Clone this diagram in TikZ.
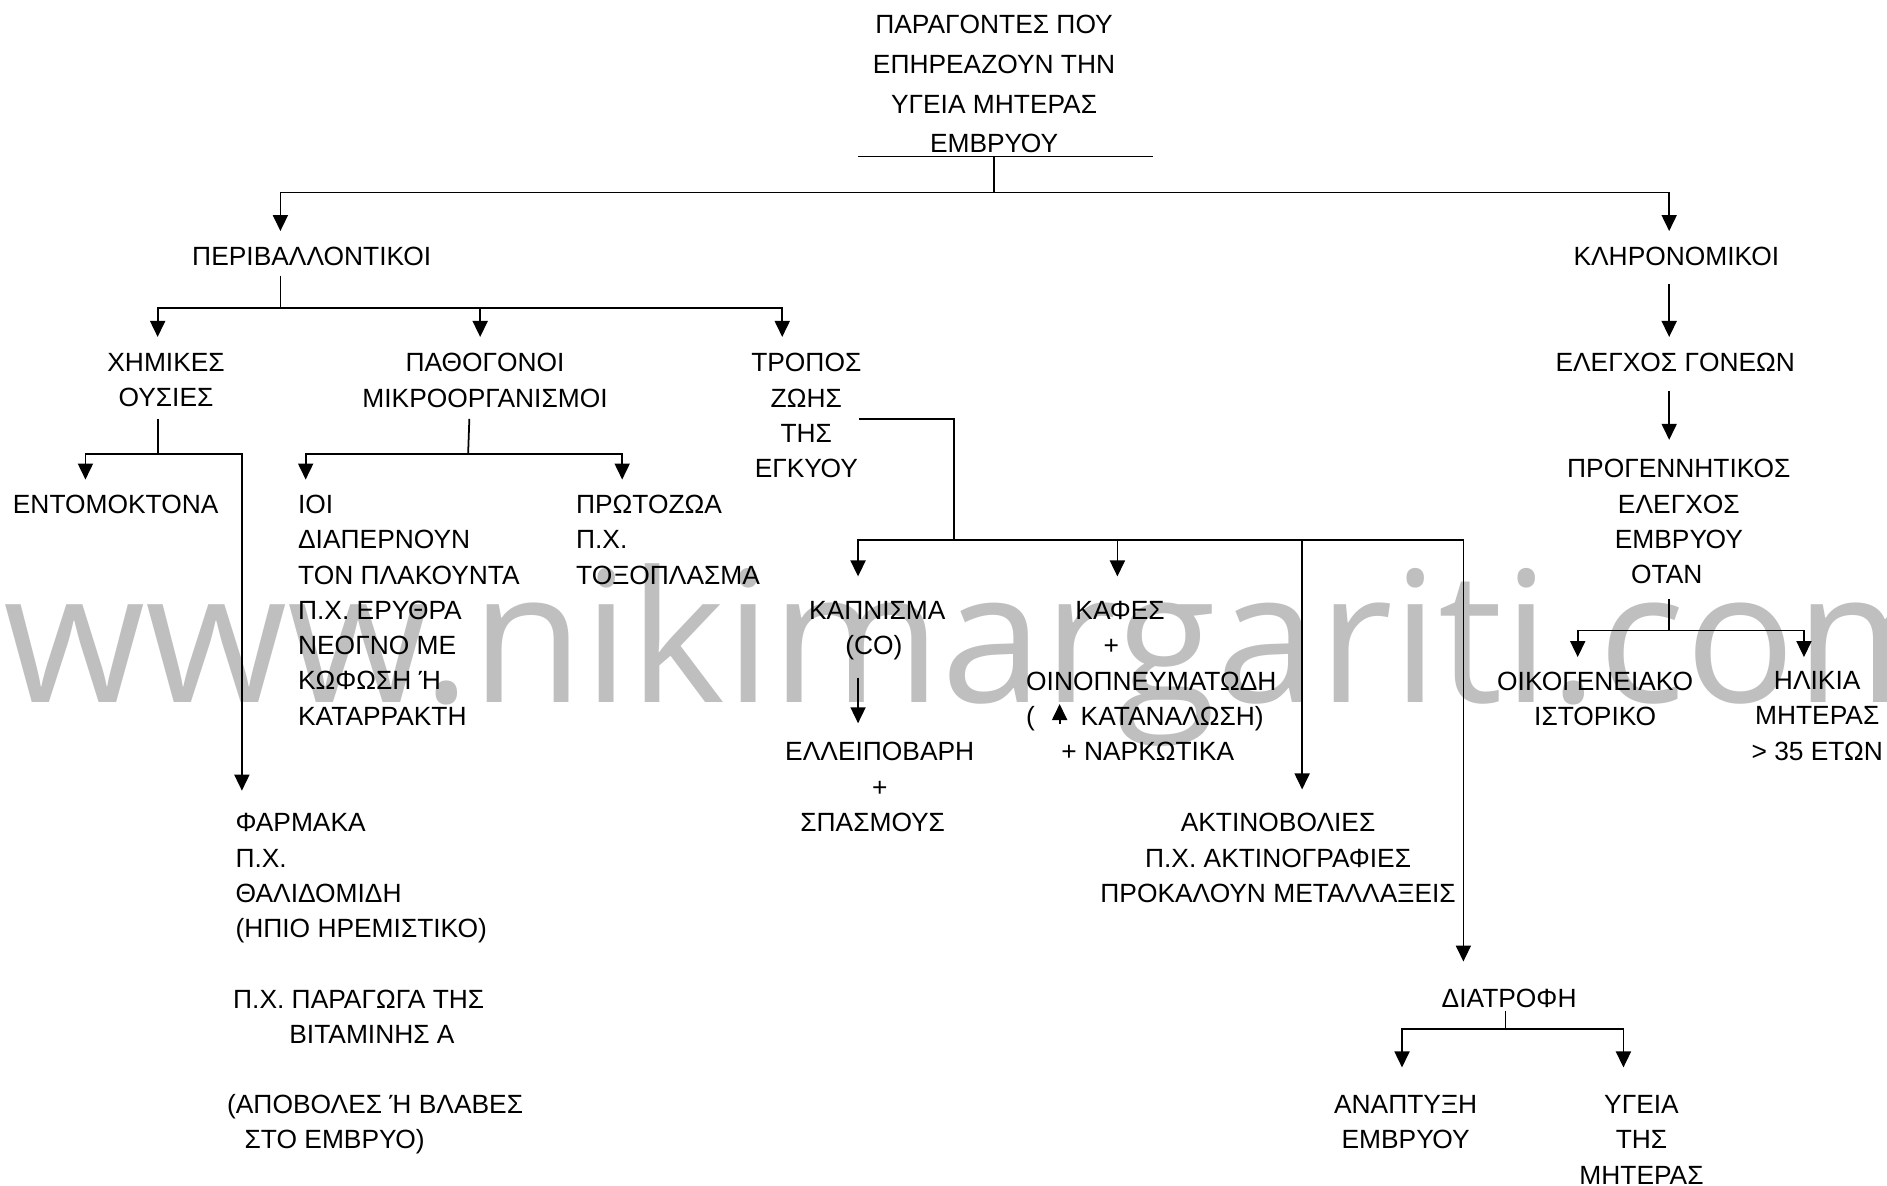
\documentclass[tikz,border=0pt]{standalone}
\usepackage{fontspec}
\setmainfont{Liberation Sans}
\newfontfamily\wmfont{Open Sans}
\usetikzlibrary{arrows.meta,positioning,calc}

\tikzset{
  lbl/.style={inner sep=0pt, align=center, font=\fontsize{7.5}{10.05}\selectfont},
  lbll/.style={lbl, align=left},
  arr/.style={-{Triangle[length=1.6mm,width=1.5mm]}}
}

\begin{document}
\begin{tikzpicture}[x=0.12034mm, y=-0.12034mm, line width=0.5pt]
\useasboundingbox (0,0) rectangle (1568,985.5);
\node[anchor=base west, inner sep=0pt, text=black!25, font=\wmfont\fontsize{52}{52}\selectfont] (wm) at (2,584) {www.nikimargariti.com};

\node[lbl, font=\fontsize{7.5}{11.3}\selectfont] (title) at (826,70) {ΠΑΡΑΓΟΝΤΕΣ ΠΟΥ\\ΕΠΗΡΕΑΖΟΥΝ ΤΗΝ\\ΥΓΕΙΑ ΜΗΤΕΡΑΣ\\ΕΜΒΡΥΟΥ};
\node[lbl] (env) at (259,213) {ΠΕΡΙΒΑΛΛΟΝΤΙΚΟΙ};
\node[lbl] (her) at (1393,213) {ΚΛΗΡΟΝΟΜΙΚΟΙ};
\node[lbl] (chem) at (138,316) {ΧΗΜΙΚΕΣ\\ΟΥΣΙΕΣ};
\node[lbl] (path) at (403,316) {ΠΑΘΟΓΟΝΟΙ\\ΜΙΚΡΟΟΡΓΑΝΙΣΜΟΙ};
\node[lbl] (life) at (670,345.5) {ΤΡΟΠΟΣ\\ΖΩΗΣ\\ΤΗΣ\\ΕΓΚΥΟΥ};
\node[lbl, anchor=west] (ins) at (10,419) {ΕΝΤΟΜΟΚΤΟΝΑ};
\node[lbll, anchor=west] (vir) at (247,507) {ΙΟΙ\\ΔΙΑΠΕΡΝΟΥΝ\\ΤΟΝ ΠΛΑΚΟΥΝΤΑ\\Π.Χ. ΕΡΥΘΡΑ\\ΝΕΟΓΝΟ ΜΕ\\ΚΩΦΩΣΗ Ή\\ΚΑΤΑΡΡΑΚΤΗ};
\node[lbll, anchor=west] (prot) at (478,448.5) {ΠΡΩΤΟΖΩΑ\\Π.Χ.\\ΤΟΞΟΠΛΑΣΜΑ};
\node[lbll, anchor=west] (drug) at (195,730) {ΦΑΡΜΑΚΑ\\Π.Χ.\\ΘΑΛΙΔΟΜΙΔΗ\\(ΗΠΙΟ ΗΡΕΜΙΣΤΙΚΟ)};
\node[lbll, anchor=west] (vita) at (193,845) {Π.Χ. ΠΑΡΑΓΩΓΑ ΤΗΣ\\\hspace*{16pt}ΒΙΤΑΜΙΝΗΣ Α};
\node[lbll, anchor=west] (harm) at (188,934) {(ΑΠΟΒΟΛΕΣ Ή ΒΛΑΒΕΣ\\\hspace*{5pt}ΣΤΟ ΕΜΒΡΥΟ)};
\node[lbl] (smoke) at (729,524) {ΚΑΠΝΙΣΜΑ\\(CO)\hspace*{2pt}};
\node[lbl] (low) at (731,654) {ΕΛΛΕΙΠΟΒΑΡΗ\\+\\ΣΠΑΣΜΟΥΣ\hspace*{4pt}};
\node[lbll, anchor=west] (coff) at (852,566) {\hspace*{14pt}ΚΑΦΕΣ\\\hspace*{22pt}+\\ΟΙΝΟΠΝΕΥΜΑΤΩΔΗ\\(\hspace*{13pt}ΚΑΤΑΝΑΛΩΣΗ)\\\hspace*{10pt}+ ΝΑΡΚΩΤΙΚΑ};
\node[lbl] (rad) at (1062,713) {ΑΚΤΙΝΟΒΟΛΙΕΣ\\Π.Χ. ΑΚΤΙΝΟΓΡΑΦΙΕΣ\\ΠΡΟΚΑΛΟΥΝ ΜΕΤΑΛΛΑΞΕΙΣ};
\node[lbl] (diet) at (1254,830) {ΔΙΑΤΡΟΦΗ};
\node[lbl] (grow) at (1168,932.5) {ΑΝΑΠΤΥΞΗ\\ΕΜΒΡΥΟΥ};
\node[lbl] (moth) at (1364,947) {ΥΓΕΙΑ\\ΤΗΣ\\ΜΗΤΕΡΑΣ};
\node[lbl] (par) at (1392,301) {ΕΛΕΓΧΟΣ ΓΟΝΕΩΝ};
\node[lbl] (pre) at (1395,433.5) {ΠΡΟΓΕΝΝΗΤΙΚΟΣ\\ΕΛΕΓΧΟΣ\\ΕΜΒΡΥΟΥ\\ΟΤΑΝ\hspace*{6.8pt}};
\node[lbl] (fam) at (1325.5,580.5) {ΟΙΚΟΓΕΝΕΙΑΚΟ\\ΙΣΤΟΡΙΚΟ};
\node[lbl] (age) at (1510,595) {ΗΛΙΚΙΑ\\ΜΗΤΕΡΑΣ\\> 35 ΕΤΩΝ};

\coordinate (ulL) at (713,130);
\coordinate (ulR) at (958,130);
\coordinate (root) at (826,130);
\coordinate (rootbar) at (826,160);
\coordinate (envin) at (233,192);
\coordinate (herin) at (1387,192);
\draw (ulL) -- (ulR);
\draw (root) -- (rootbar);
\draw[arr] (rootbar) -| (envin);
\draw[arr] (rootbar) -| (herin);

\coordinate (envout) at (233,229);
\coordinate (envbar) at (233,256);
\coordinate (chemin) at (131,280);
\coordinate (pathin) at (399,280);
\coordinate (lifein) at (650,280);
\draw (envout) -- (envbar);
\draw[arr] (envbar) -| (chemin);
\draw[arr] (envbar) -| (pathin);
\draw[arr] (envbar) -| (lifein);

\coordinate (chemout) at (131,348);
\coordinate (chembar) at (131,377);
\coordinate (insin) at (71,398.5);
\coordinate (drugin) at (201,657);
\draw (chemout) -- (chembar);
\draw[arr] (chembar) -| (insin);
\draw[arr] (chembar) -| (drugin);

\coordinate (pathout) at (390,348);
\coordinate (pathbar) at (389,377);
\coordinate (virin) at (254,398.5);
\coordinate (protin) at (517,398.5);
\draw (pathout) -- (pathbar);
\draw[arr] (pathbar) -| (virin);
\draw[arr] (pathbar) -| (protin);

\coordinate (lifeout) at (714,348);
\coordinate (lifebar) at (793,449);
\coordinate (smokein) at (713,479);
\coordinate (coffin) at (928.5,479);
\coordinate (radin) at (1082,656);
\coordinate (dietin) at (1216,799);
\draw (lifeout) -| (lifebar);
\draw[arr] (lifebar) -| (smokein);
\draw[arr] (lifebar) -| (coffin);
\draw[arr] (lifebar) -| (radin);
\draw[arr] (lifebar) -| (dietin);

\coordinate (smokeout) at (713,563);
\coordinate (lowin) at (713,601);
\draw[arr] (smokeout) -- (lowin);
\coordinate (upbot) at (880.5,602);
\coordinate (uptop) at (880.5,585);
\draw[arr] (upbot) -- (uptop);

\coordinate (dietout) at (1251,840);
\coordinate (dietbar) at (1251,855);
\coordinate (growin) at (1165,887);
\coordinate (mothin) at (1349,887);
\draw (dietout) -- (dietbar);
\draw[arr] (dietbar) -| (growin);
\draw[arr] (dietbar) -| (mothin);

\coordinate (herout) at (1387,236);
\coordinate (parin) at (1387,280);
\coordinate (parout) at (1387,325);
\coordinate (prein) at (1387,365.5);
\draw[arr] (herout) -- (parin);
\draw[arr] (parout) -- (prein);
\coordinate (preout) at (1387,497.5);
\coordinate (prebar) at (1387,524);
\coordinate (famin) at (1311,546);
\coordinate (agein) at (1499,546);
\draw (preout) -- (prebar);
\draw[arr] (prebar) -| (famin);
\draw[arr] (prebar) -| (agein);
\end{tikzpicture}
\end{document}
